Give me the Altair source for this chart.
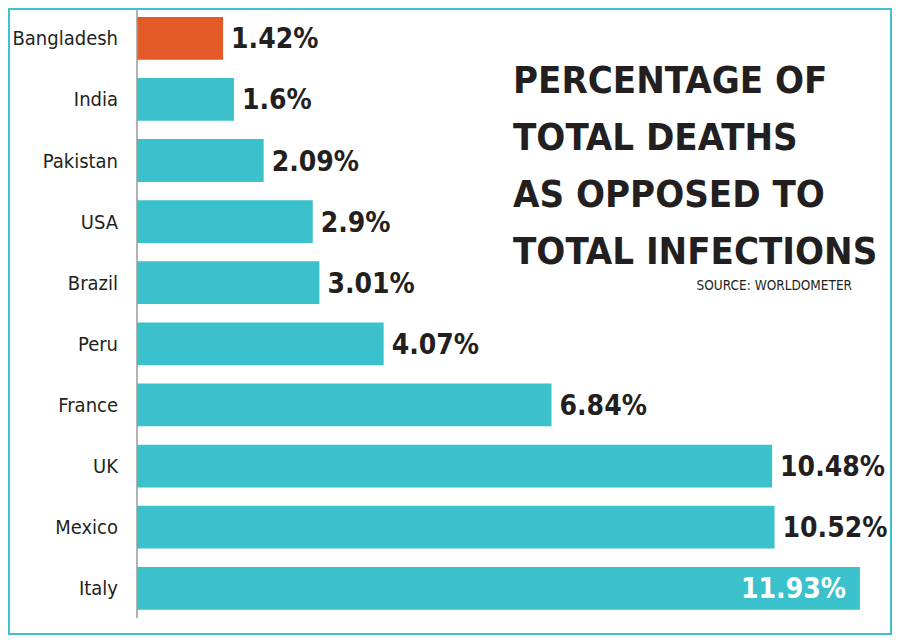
import altair as alt
import pandas as pd

countries = ["Bangladesh", "India", "Pakistan", "USA", "Brazil", "Peru", "France", "UK", "Mexico", "Italy"]
values = [1.42, 1.6, 2.09, 2.9, 3.01, 4.07, 6.84, 10.48, 10.52, 11.93]
highlight = "Bangladesh"
title_lines = ["PERCENTAGE OF", "TOTAL DEATHS", "AS OPPOSED TO", "TOTAL INFECTIONS"]
source_text = "SOURCE: WORLDOMETER"

TEAL = "#3BC1CC"
ORANGE = "#E35A26"
INK = "#231F20"
FONT = "DejaVu Sans Condensed, sans-serif"

df = pd.DataFrame({"country": countries, "value": values})
df["label"] = [f"{v:g}%" for v in values]
df["is_max"] = [v == max(values) for v in values]
df["zero"] = 0.0
df["hl"] = [c == highlight for c in countries]

title_df = pd.DataFrame({"t": ["\n".join(title_lines)]})
source_df = pd.DataFrame({"t": [source_text]})
zero_df = pd.DataFrame({"zero": [0.0]})

x_scale = alt.Scale(domain=[-2.129, 12.459], nice=False, zero=False)
y_scale = alt.Scale(domain=countries, paddingInner=0.3, paddingOuter=0.28, align=0.26)

X = alt.X("value:Q", scale=x_scale, axis=None)
X0 = alt.X("zero:Q", scale=x_scale, axis=None)
Y = alt.Y("country:N", scale=y_scale, axis=None)

base = alt.Chart(df)

bars = base.mark_bar().encode(
    x=X0,
    x2="value:Q",
    y=Y,
    color=alt.Color("hl:N", scale=alt.Scale(domain=[True, False], range=[ORANGE, TEAL]), legend=None),
)

axis_line = alt.Chart(zero_df).mark_rule(color="#9a9a9a", strokeWidth=1.5).encode(
    x=X0, y=alt.value(1), y2=alt.value(610)
)

country_labels = base.mark_text(
    align="right", baseline="middle", dx=-19, dy=1, fontSize=20, font=FONT, color=INK
).encode(x=X0, y=Y, text="country:N")

out_labels = base.transform_filter("!datum.is_max").mark_text(
    align="left", baseline="middle", dx=8, dy=2, fontSize=28, fontWeight="bold", font=FONT, color=INK
).encode(x=X, y=Y, text="label:N")

in_labels = base.transform_filter("datum.is_max").mark_text(
    align="right", baseline="middle", dx=-14, dy=2, fontSize=28, fontWeight="bold", font=FONT, color="white"
).encode(x=X, y=Y, text="label:N")

title = alt.Chart(title_df).mark_text(
    align="left", baseline="alphabetic", fontSize=38, fontWeight="bold", font=FONT,
    color=INK, lineHeight=57, lineBreak="\n"
).encode(x=alt.value(505), y=alt.value(85), text="t:N")

source = alt.Chart(source_df).mark_text(
    align="right", baseline="alphabetic", fontSize=13.5, font=FONT, color=INK
).encode(x=alt.value(844), y=alt.value(282), text="t:N")

chart = alt.layer(bars, axis_line, country_labels, out_labels, in_labels, title, source).properties(
    width=884, height=627, padding=0,
    autosize=alt.AutoSizeParams(type="none"),
    background="white",
).configure_view(stroke="#40C2CC", strokeWidth=4)

chart.save("out.html", embed_options={"renderer": "svg", "actions": False})
